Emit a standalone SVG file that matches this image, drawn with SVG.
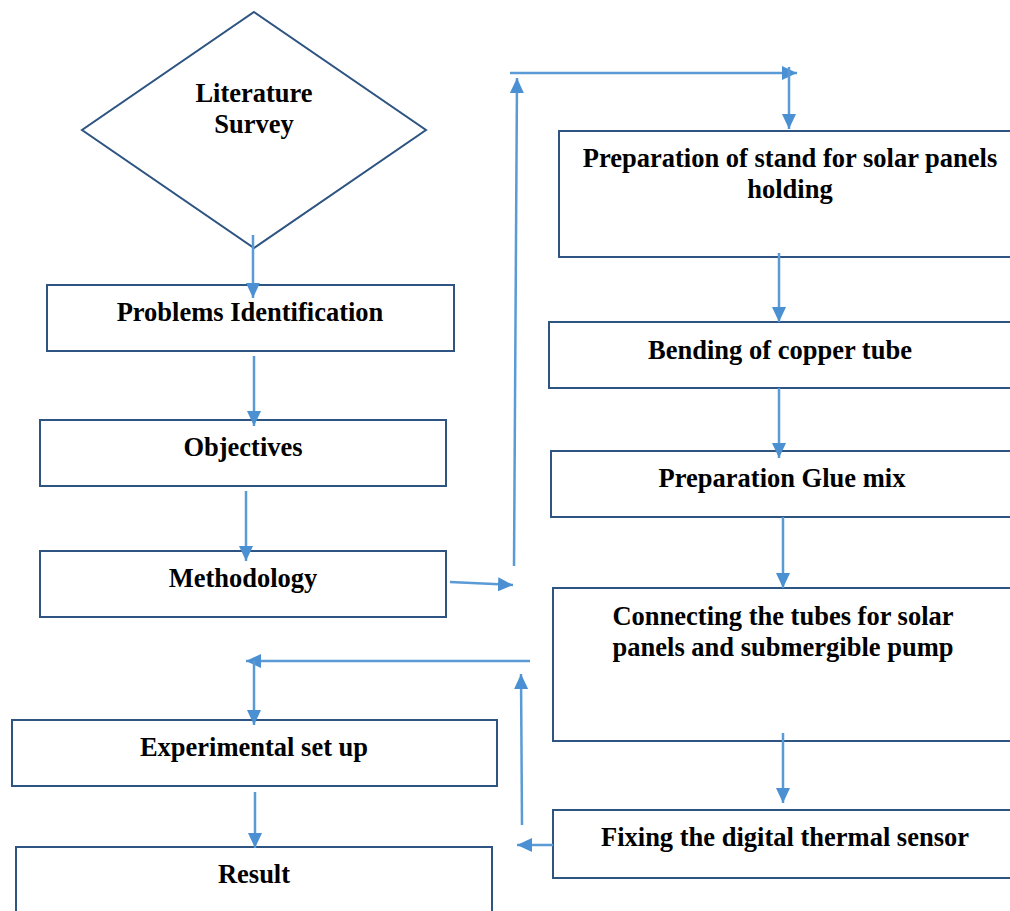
<svg xmlns="http://www.w3.org/2000/svg" width="1010" height="911" viewBox="0 0 1010 911">
<style>
.box{fill:#fff;stroke:#2E5482;stroke-width:2}
.t{font-family:"Liberation Serif","Times New Roman",serif;font-weight:bold;font-size:26.5px;fill:#000;text-anchor:middle}
.c{fill:none;stroke:#5B9BD5;stroke-width:2.5}
</style>
<defs>
<marker id="a" markerUnits="userSpaceOnUse" markerWidth="15" markerHeight="14" refX="15" refY="7" orient="auto">
<path d="M0,0 L15,7 L0,14 Z" fill="#4A90D2"/>
</marker>
</defs>
<rect width="1010" height="911" fill="#fff"/>
<g id="literature-survey">
<polygon class="box" points="254,12 426,130 254,248 82,130"/>
<text class="t" x="254" y="102">Literature</text>
<text class="t" x="254" y="133">Survey</text>
</g>
<g id="problems-identification">
<rect class="box" x="47" y="285" width="407" height="66"/>
<text class="t" x="250" y="321">Problems Identification</text>
</g>
<g id="objectives">
<rect class="box" x="40" y="420" width="406" height="66"/>
<text class="t" x="243" y="456">Objectives</text>
</g>
<g id="methodology">
<rect class="box" x="40" y="551" width="406" height="66"/>
<text class="t" x="243" y="587">Methodology</text>
</g>
<g id="experimental-set-up">
<rect class="box" x="12" y="720" width="485" height="66"/>
<text class="t" x="254" y="756">Experimental set up</text>
</g>
<g id="result">
<rect class="box" x="16" y="847" width="476" height="80"/>
<text class="t" x="254" y="883">Result</text>
</g>
<g id="preparation-of-stand">
<rect class="box" x="559" y="131" width="470" height="126"/>
<text class="t" x="790" y="167">Preparation of stand for solar panels</text>
<text class="t" x="790" y="198">holding</text>
</g>
<g id="bending-of-copper-tube">
<rect class="box" x="549" y="322" width="480" height="66"/>
<text class="t" x="780" y="359">Bending of copper tube</text>
</g>
<g id="preparation-glue-mix">
<rect class="box" x="551" y="451" width="478" height="66"/>
<text class="t" x="782" y="487">Preparation Glue mix</text>
</g>
<g id="connecting-the-tubes">
<rect class="box" x="553" y="588" width="476" height="153"/>
<text class="t" x="783" y="625">Connecting the tubes for solar</text>
<text class="t" x="783" y="656">panels and submergible pump</text>
</g>
<g id="fixing-sensor">
<rect class="box" x="553" y="810" width="476" height="68"/>
<text class="t" x="785" y="846">Fixing the digital thermal sensor</text>
</g>
<g id="connectors">
<line class="c" x1="253" y1="235" x2="253" y2="298" marker-end="url(#a)"/>
<line class="c" x1="254" y1="356" x2="254" y2="426" marker-end="url(#a)"/>
<line class="c" x1="246" y1="491" x2="246" y2="561" marker-end="url(#a)"/>
<line class="c" x1="450" y1="582" x2="513" y2="585" marker-end="url(#a)"/>
<line class="c" x1="514" y1="566" x2="517" y2="78" marker-end="url(#a)"/>
<line class="c" x1="510" y1="73" x2="797" y2="73" marker-end="url(#a)"/>
<line class="c" x1="789" y1="67" x2="789" y2="129" marker-end="url(#a)"/>
<line class="c" x1="779" y1="253" x2="779" y2="322" marker-end="url(#a)"/>
<line class="c" x1="779" y1="388" x2="779" y2="458" marker-end="url(#a)"/>
<line class="c" x1="783" y1="517" x2="783" y2="588" marker-end="url(#a)"/>
<line class="c" x1="783" y1="733" x2="783" y2="803" marker-end="url(#a)"/>
<line class="c" x1="553" y1="845" x2="517" y2="845" marker-end="url(#a)"/>
<line class="c" x1="522" y1="825" x2="521" y2="674" marker-end="url(#a)"/>
<line class="c" x1="530" y1="661" x2="246" y2="661" marker-end="url(#a)"/>
<line class="c" x1="254" y1="661" x2="254" y2="725" marker-end="url(#a)"/>
<line class="c" x1="255" y1="792" x2="255" y2="848" marker-end="url(#a)"/>
</g>
</svg>
